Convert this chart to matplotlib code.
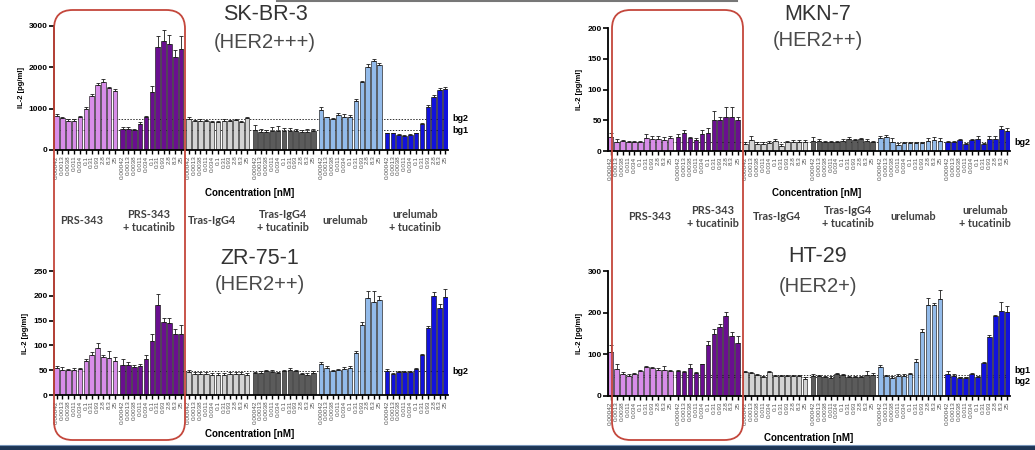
import matplotlib
matplotlib.use("Agg")
import matplotlib.pyplot as plt
from matplotlib.patches import FancyBboxPatch, Rectangle
from matplotlib.lines import Line2D
import numpy as np

plt.rcParams['font.family'] = ['Liberation Sans', 'DejaVu Sans']

# ---------------- data ----------------
concentrations = ['0.00042', '0.0013', '0.0038', '0.011', '0.034', '0.1',
                  '0.31', '0.93', '2.8', '8.3', '25']
groups = ['PRS-343', 'PRS-343\n+ tucatinib', 'Tras-IgG4', 'Tras-IgG4\n+ tucatinib',
          'urelumab', 'urelumab\n+ tucatinib']
group_colors = ['#d88de9', '#6a0f90', '#d3d3d3', '#5b5b5b', '#93bbea', '#1212dc']

# SK-BR-3 (HER2+++)
skbr3_vals = [
    [820, 780, 700, 700, 800, 980, 1300, 1580, 1650, 1490, 1420],
    [500, 500, 490, 620, 800, 1400, 2500, 2630, 2570, 2250, 2450],
    [760, 690, 700, 700, 680, 670, 710, 690, 720, 670, 780],
    [490, 440, 430, 470, 470, 450, 460, 460, 430, 440, 460],
    [960, 790, 750, 850, 810, 810, 1180, 1650, 2000, 2150, 2060],
    [400, 400, 370, 350, 370, 400, 640, 1050, 1290, 1450, 1470],
]
skbr3_err = [
    [60, 30, 50, 40, 30, 60, 50, 40, 60, 30, 60],
    [60, 60, 30, 60, 20, 150, 250, 270, 220, 180, 320],
    [40, 30, 40, 30, 30, 30, 40, 40, 40, 30, 30],
    [120, 60, 60, 80, 100, 80, 80, 60, 60, 60, 60],
    [80, 20, 30, 40, 50, 40, 60, 20, 90, 50, 40],
    [20, 20, 20, 20, 20, 20, 20, 50, 50, 60, 50],
]
skbr3_bg = {'bg2': 760, 'bg1': 480}

# ZR-75-1 (HER2++)
zr751_vals = [
    [55, 51, 50, 51, 53, 68, 80, 95, 76, 75, 68],
    [61, 61, 57, 58, 72, 109, 181, 147, 146, 123, 123],
    [47, 43, 42, 43, 40, 40, 40, 43, 43, 42, 40],
    [44, 45, 48, 47, 44, 48, 50, 48, 42, 41, 45],
    [63, 55, 49, 50, 52, 55, 84, 142, 195, 188, 191],
    [48, 42, 46, 46, 46, 52, 81, 136, 200, 176, 197],
]
zr751_err = [
    [3, 5, 2, 4, 2, 4, 6, 10, 4, 14, 8],
    [12, 6, 4, 4, 8, 14, 22, 8, 10, 10, 18],
    [4, 4, 4, 4, 4, 4, 4, 4, 4, 4, 4],
    [3, 3, 3, 3, 3, 3, 5, 3, 3, 3, 3],
    [3, 4, 2, 2, 4, 3, 5, 5, 15, 22, 8],
    [4, 3, 3, 3, 2, 2, 2, 3, 8, 7, 16],
]
zr751_bg = {'bg2': 48}

# MKN-7 (HER2++)
mkn7_vals = [
    [22, 15, 16, 14, 14, 14, 21, 19, 20, 18, 21],
    [22, 29, 21, 18, 27, 29, 50, 51, 56, 56, 51],
    [11, 18, 12, 12, 13, 16, 8, 14, 14, 14, 15],
    [17, 17, 14, 14, 15, 17, 20, 18, 19, 17, 15],
    [21, 22, 15, 10, 13, 13, 13, 13, 17, 18, 17],
    [15, 15, 18, 11, 18, 20, 11, 20, 20, 35, 32],
]
mkn7_err = [
    [8, 4, 2, 2, 3, 3, 6, 6, 5, 4, 4],
    [5, 5, 2, 3, 7, 8, 15, 5, 15, 15, 4],
    [3, 7, 2, 2, 3, 4, 3, 2, 4, 4, 3],
    [5, 2, 2, 2, 2, 2, 3, 2, 2, 2, 2],
    [4, 4, 6, 3, 2, 2, 2, 2, 4, 4, 4],
    [2, 2, 2, 2, 2, 5, 2, 5, 5, 5, 6],
]
mkn7_bg = {'bg2': 14}

# HT-29 (HER2+)
ht29_vals = [
    [105, 66, 52, 49, 52, 59, 69, 67, 63, 63, 59],
    [59, 57, 68, 56, 76, 123, 150, 165, 193, 144, 127],
    [57, 55, 50, 45, 58, 48, 48, 48, 47, 48, 42],
    [48, 48, 46, 44, 53, 50, 45, 45, 45, 50, 51],
    [70, 48, 44, 49, 49, 52, 82, 154, 219, 218, 232],
    [53, 49, 44, 44, 52, 46, 80, 142, 191, 205, 202],
]
ht29_err = [
    [18, 10, 5, 3, 3, 4, 2, 2, 4, 8, 4],
    [3, 3, 10, 2, 2, 10, 12, 8, 8, 10, 18],
    [3, 3, 3, 3, 3, 3, 3, 3, 3, 3, 3],
    [6, 3, 3, 3, 3, 3, 2, 2, 2, 10, 5],
    [4, 3, 3, 3, 4, 3, 6, 6, 16, 6, 22],
    [8, 4, 2, 2, 3, 3, 2, 4, 3, 20, 15],
]
ht29_bg = {'bg1': 50, 'bg2': 45}

# ---------------- figure ----------------
W, H = 1035, 450
fig = plt.figure(figsize=(W / 100, H / 100), dpi=100)


def px_rect(x0, y_top, x1, y_bot):
    return [x0 / W, 1 - y_bot / H, (x1 - x0) / W, (y_bot - y_top) / H]


GAP = 0.3
BAR_W = 0.78


def draw_panel(rect, vals, errs, ymax, yticks, bgs, title, subtitle,
               title_xy, sub_xy, conc_xy):
    ax = fig.add_axes(rect)
    positions = []
    for g, (v, e) in enumerate(zip(vals, errs)):
        x = np.arange(len(v)) + g * (len(concentrations) + GAP)
        positions.extend(x)
        ax.bar(x, v, width=BAR_W, color=group_colors[g], edgecolor='#1a1a1a',
               linewidth=0.45, zorder=2)
        ax.errorbar(x, v, yerr=[np.zeros(len(e)), e], fmt='none',
                    ecolor='#1a1a1a', elinewidth=0.6, capsize=1.1,
                    capthick=0.6, zorder=3)
    positions = np.array(positions)
    ax.set_xlim(positions[0] - BAR_W / 2 - 0.05, positions[-1] + BAR_W / 2 + 0.05)
    ax.set_ylim(0, ymax)
    ax.set_yticks(yticks)
    ax.set_yticklabels([str(t) for t in yticks], fontsize=6, fontweight='bold')
    ax.set_xticks(positions)
    ax.set_xticklabels(concentrations * len(groups), rotation=90, fontsize=4.6,
                       color='#555555')
    ax.tick_params(axis='x', length=3, width=1.0, pad=1)
    ax.tick_params(axis='y', length=3.5, width=1.2, pad=1)
    for s in ['top', 'right']:
        ax.spines[s].set_visible(False)
    for s in ['left', 'bottom']:
        ax.spines[s].set_linewidth(1.3)
    ax.set_ylabel('IL-2 [pg/ml]', fontsize=5.5, fontweight='bold', labelpad=3)
    bg_vals = list(bgs.values())
    close = len(bg_vals) == 2 and abs(bg_vals[0] - bg_vals[1]) < 0.05 * ymax
    for i, (name, val) in enumerate(bgs.items()):
        ax.axhline(val, color='#333333', linestyle=(0, (1.5, 1.5)),
                   linewidth=0.7, zorder=1.5)
        dy = (3.2 if i == 0 else -3.2) if close else 0
        ax.annotate(name, xy=(1.0, val), xycoords=('axes fraction', 'data'),
                    xytext=(3, dy), textcoords='offset points', fontsize=6.5,
                    fontweight='bold', va='center', ha='left',
                    annotation_clip=False)
    fig.text(title_xy[0] / W, 1 - title_xy[1] / H, title, fontsize=15.5,
             color='#333333', ha='center', va='center')
    fig.text(sub_xy[0] / W, 1 - sub_xy[1] / H, subtitle, fontsize=14.5,
             color='#4a4a4a', ha='center', va='center')
    fig.text(conc_xy[0] / W, 1 - conc_xy[1] / H, 'Concentration [nM]',
             fontsize=7, fontweight='bold', ha='center', va='center')
    return ax


draw_panel(px_rect(54, 26, 448, 150), skbr3_vals, skbr3_err, 3000,
           [0, 1000, 2000, 3000], skbr3_bg, 'SK-BR-3', '(HER2+++)',
           (265, 14), (265, 42), (250, 193))
draw_panel(px_rect(54, 271, 448, 395), zr751_vals, zr751_err, 250,
           [0, 50, 100, 150, 200, 250], zr751_bg, 'ZR-75-1', '(HER2++)',
           (260, 259), (260, 285), (250, 434))
draw_panel(px_rect(608, 28, 1010, 151), mkn7_vals, mkn7_err, 200,
           [0, 50, 100, 150, 200], mkn7_bg, 'MKN-7', '(HER2++)',
           (818, 15), (818, 41), (817, 193))
draw_panel(px_rect(608, 271, 1010, 396), ht29_vals, ht29_err, 300,
           [0, 100, 200, 300], ht29_bg, 'HT-29', '(HER2+)',
           (818, 256), (818, 286), (809, 438))

# group labels
left_x = [82, 149, 212, 283, 345, 415]
right_x = [650, 713, 777, 848, 913, 985]
for xs, yc in [(left_x, 221), (right_x, 217)]:
    for x, name in zip(xs, groups):
        fig.text(x / W, 1 - yc / H, name, fontsize=7.8, color='#404040',
                 ha='center', va='center', family=['Lato', 'DejaVu Sans'],
                 fontweight='bold', linespacing=1.25)

# red rounded boxes
for x0, x1 in [(54, 185), (612, 743)]:
    box = FancyBboxPatch((x0 / W, 1 - 440 / H), (x1 - x0) / W, 430 / H,
                         boxstyle='round,pad=0,rounding_size=0.018',
                         transform=fig.transFigure, fill=False,
                         edgecolor='#c4473c', linewidth=1.3,
                         mutation_aspect=W / H)
    fig.add_artist(box)

# slide decorations
fig.add_artist(Line2D([277 / W, 737 / W], [1 - 0.8 / H, 1 - 0.8 / H],
                      transform=fig.transFigure, color='#777777', linewidth=1.5))
fig.add_artist(Rectangle((0, 0), 1, 5 / H, transform=fig.transFigure,
                         facecolor='#1e3656', edgecolor='none'))
fig.add_artist(Line2D([0, 1], [5 / H, 5 / H], transform=fig.transFigure,
                      color='#7894b8', linewidth=0.8))

fig.savefig('out.png', dpi=100)
